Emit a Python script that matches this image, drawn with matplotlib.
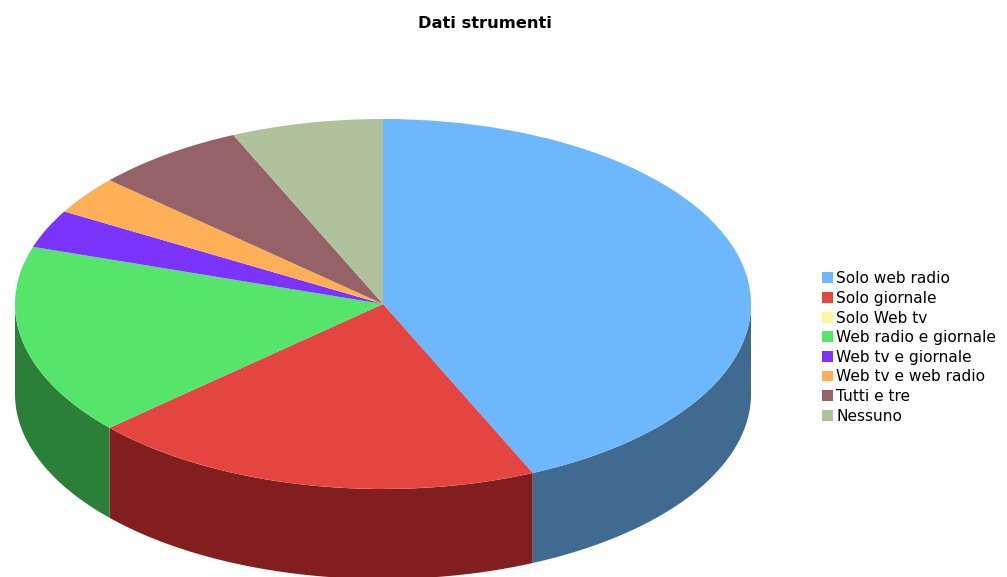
import numpy as np
import matplotlib
matplotlib.use("Agg")
import matplotlib.pyplot as plt
from matplotlib.patches import Patch

# Survey answers on which tools are used
categories = ["Solo web radio", "Solo giornale", "Solo Web tv", "Web radio e giornale",
              "Web tv e giornale", "Web tv e web radio", "Tutti e tre", "Nessuno"]
values = [13, 6, 0, 5, 1, 1, 2, 2]
top_colors = ["#6DB7FC", "#E54540", "#FFF59D", "#55E56B", "#7B33FF", "#FFB056", "#956367", "#AFC29C"]
side_colors = ["#406A90", "#831E1E", "#8F8958", "#2B7F38", "#451C8F", "#8F6330", "#543739", "#626D57"]
title = "Dati strumenti"

W, H = 1007, 577
CX, CY, RX, RY, DEPTH = 383, 304, 368, 185, 90  # pie centre, radii and wall height in pixels

fig = plt.figure(figsize=(W / 100, H / 100), dpi=100, facecolor="white")
ax = fig.add_axes([0, 0, 1, 1])

# Top face: clockwise from twelve o'clock, squashed afterwards by free axis limits
ax.pie(values, colors=top_colors, startangle=90, counterclock=False, radius=1,
       wedgeprops={"linewidth": 0, "zorder": 3})
ax.set_aspect("auto")
ax.set_xlim(-CX / RX, (W - CX) / RX)
ax.set_ylim(-(H - CY) / RY, CY / RY)
ax.axis("off")

# Cylinder wall: each slice's arc restricted to the front half of the ellipse
depth = DEPTH / RY
edges = np.cumsum([0] + values) / sum(values) * 2 * np.pi
for start, end, color in zip(edges[:-1], edges[1:], side_colors):
    lo, hi = max(start, np.pi / 2), min(end, 3 * np.pi / 2)
    if hi <= lo:
        continue
    t = np.linspace(lo, hi, 200)
    x, y = np.sin(t), np.cos(t)
    ax.fill(np.r_[x, x[::-1]], np.r_[y, y[::-1] - depth], color=color, lw=0, zorder=2)

fig.text(485 / W, 1 - 23 / H, title, ha="center", va="center",
         fontsize=11.7, fontweight="bold", color="black", family="DejaVu Sans")

handles = [Patch(facecolor=c, edgecolor="none") for c in top_colors]
fig.legend(handles, categories, loc="center left", bbox_to_anchor=(817.5 / W, 1 - 347.5 / H),
           frameon=False, labelspacing=0.30, handlelength=0.71,
           handleheight=0.71, handletextpad=0.2, borderpad=0.3, borderaxespad=0,
           prop={"family": "DejaVu Sans", "size": 11.1})

fig.savefig("out.png", dpi=100)
